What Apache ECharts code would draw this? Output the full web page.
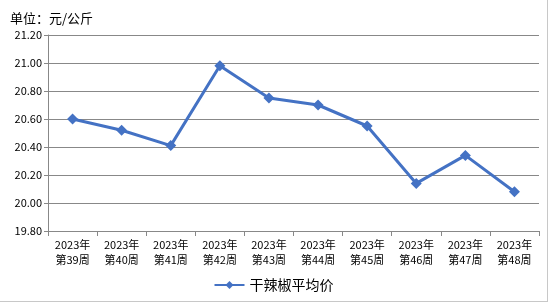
<!DOCTYPE html>
<html><head><meta charset="utf-8">
<script src="https://cdn.jsdelivr.net/npm/echarts@6/dist/echarts.min.js"></script>
<style>html,body{margin:0;padding:0;background:#fff}#c{width:547px;height:301px;border-right:1px solid #c8c8c8;border-bottom:1px solid #c8c8c8}</style>
</head><body><div id="c"></div>
<script>
const categories = ['2023年\n第39周','2023年\n第40周','2023年\n第41周','2023年\n第42周','2023年\n第43周','2023年\n第44周','2023年\n第45周','2023年\n第46周','2023年\n第47周','2023年\n第48周'];
const seriesName = '干辣椒平均价';
const values = [20.60, 20.52, 20.41, 20.98, 20.75, 20.70, 20.55, 20.14, 20.34, 20.08];
const yMin = 19.8, yMax = 21.2, yStep = 0.2;
const unitLabel = '单位：元/公斤';
const font = '"Noto Sans CJK SC", sans-serif';
const chart = echarts.init(document.getElementById('c'));
chart.setOption({
  animation:false,
  title:{text:unitLabel,left:5,top:7,textStyle:{fontSize:13,fontWeight:'normal',color:'#000',fontFamily:font}},
  grid:{left:48,right:8,top:35,bottom:70},
  legend:{bottom:4,left:'center',itemWidth:30,itemHeight:10,itemGap:5,
    textStyle:{fontSize:14,color:'#000',fontFamily:font},
    data:[seriesName]},
  xAxis:{type:'category',data:categories,boundaryGap:true,
    axisLine:{lineStyle:{color:'#888'}},axisTick:{show:true,lineStyle:{color:'#888'},length:5},
    axisLabel:{fontSize:11,color:'#000',fontFamily:font,lineHeight:15,margin:6,interval:0}},
  yAxis:{type:'value',min:yMin,max:yMax,interval:yStep,
    axisLine:{show:true,lineStyle:{color:'#888'}},axisTick:{show:true,lineStyle:{color:'#888'},length:4},
    splitLine:{lineStyle:{color:'#888',width:1}},
    axisLabel:{fontSize:11,color:'#000',fontFamily:font,margin:6,formatter:v=>v.toFixed(2)}},
  series:[{name:seriesName,type:'line',data:values,symbol:'diamond',symbolSize:11,
    lineStyle:{color:'#4472C4',width:3},itemStyle:{color:'#4472C4'}}]
});
</script></body></html>
